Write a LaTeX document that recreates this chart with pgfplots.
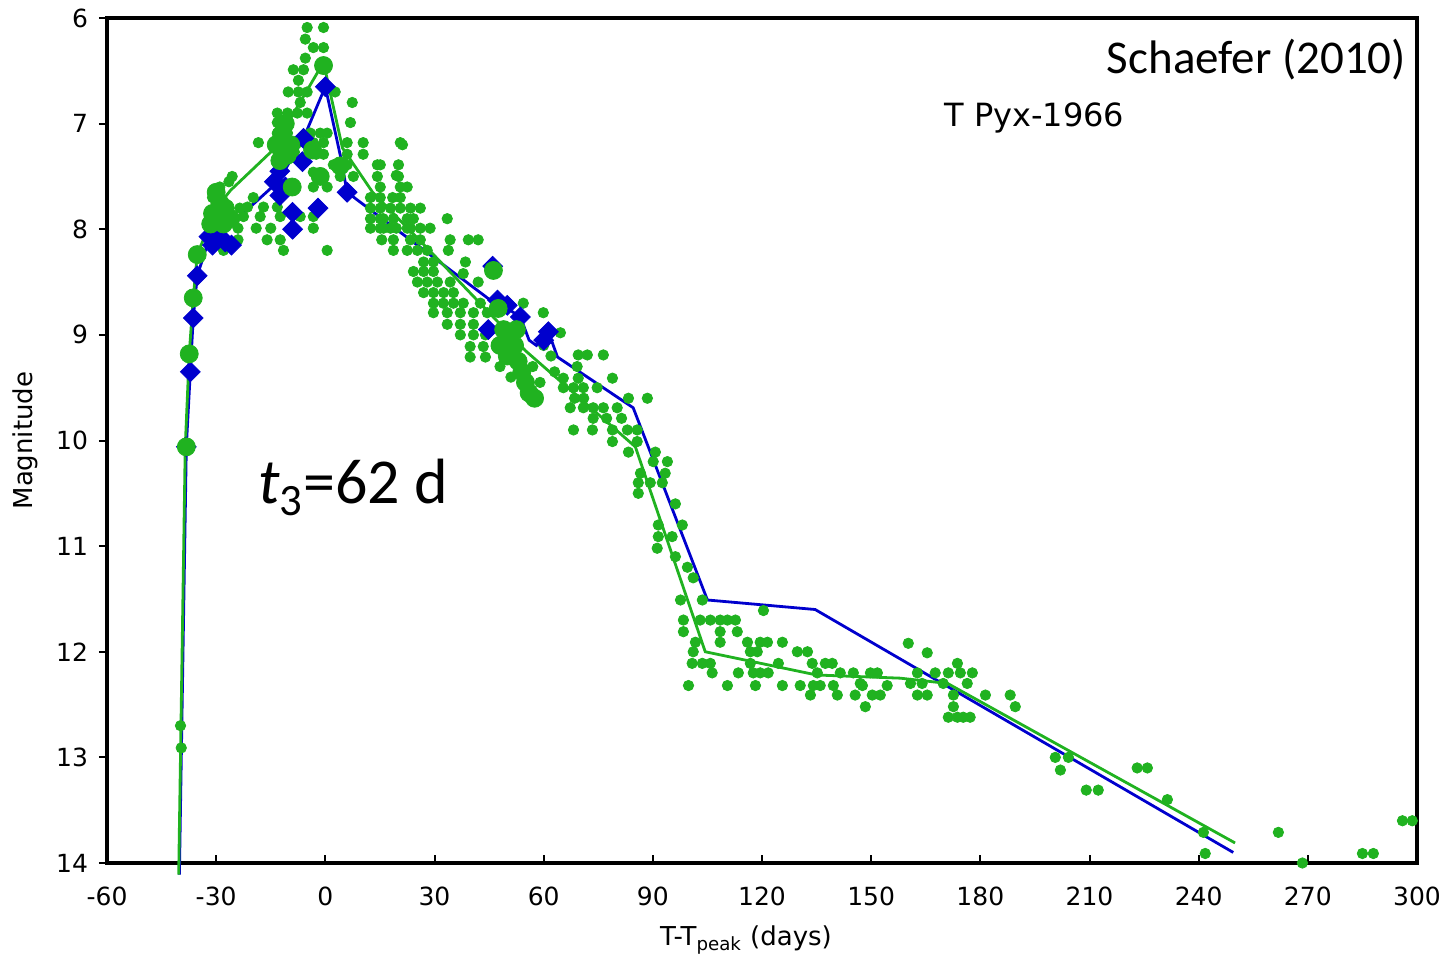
\documentclass[border=0pt]{standalone}
\usepackage{fontspec}
\setmainfont{DejaVu Sans}
\newfontfamily\calibri{Carlito}
\usepackage{pgfplots}
\pgfplotsset{compat=1.18}
\usetikzlibrary{calc}
\definecolor{pgreen}{RGB}{32,178,32}
\definecolor{pblue}{RGB}{0,0,205}

\begin{document}
\begin{tikzpicture}
\begin{axis}[
  name=ax,
  scale only axis, width=655pt, height=422.5pt,
  xmin=-60, xmax=300, ymin=6, ymax=14, y dir=reverse,
  clip=false,
  xtick={-60,-30,0,30,60,90,120,150,180,210,240,270,300},
  xticklabels={-60,-30,0,30,60,90,120,150,180,210,240,270,300},
  ytick={6,7,8,9,10,11,12,13,14},
  yticklabels={6,7,8,9,10,11,12,13,14},
  tick align=inside, xtick pos=bottom, ytick pos=left,
  major tick length=4pt,
  ytick style={xshift=-4pt, line width=1pt, black},
  xtick style={line width=1pt, black},
  tick label style={font=\fontsize{12.5}{14}\selectfont},
  yticklabel style={xshift=-6pt},
  xticklabel style={yshift=-8.5pt},
  axis line style={line width=2pt},
  xlabel={T-T\textsubscript{peak} (days)},
  ylabel={Magnitude},
  every axis x label/.style={at={(axis description cs:0.5,0)}, anchor=center, xshift=-8pt, yshift=-38.5pt, font=\fontsize{13}{15}\selectfont},
  every axis y label/.style={at={(axis description cs:0,0.5)}, xshift=-41pt, anchor=center, rotate=90, font=\fontsize{13}{15}\selectfont},
]
% small green dots
\addplot[only marks, mark=*, mark size=2.6pt, mark options={draw=pgreen, fill=pgreen}] coordinates {
(-39.8,12.7)(-39.6,12.91)
(-5.0,6.09)(-0.5,6.09)(-5.5,6.20)(-3.3,6.28)(-0.5,6.28)(-5.5,6.38)
(-8.8,6.49)(-6.0,6.49)(-7.4,6.59)(-10.2,6.70)(-7.4,6.70)(-5.0,6.70)(2.7,6.70)
(7.4,6.80)(-6.9,6.80)(-13.2,6.90)(-10.4,6.90)(-7.7,6.90)(-5.0,6.90)
(6.9,6.99)(-13.2,6.99)(-10.4,6.99)(-4.1,7.09)(-1.4,7.09)(0.5,7.09)(-13.2,7.09)(-10.4,7.09)
(-18.4,7.18)(-11.5,7.18)(-7.4,7.18)(-3.3,7.18)(-0.5,7.18)(6.0,7.18)(10.4,7.18)(20.6,7.18)
(-13,7.27)(-8.5,7.27)(-2.5,7.29)(-0.5,7.29)(6.0,7.29)(10.4,7.29)
(2.2,7.39)(6.0,7.39)(14.3,7.39)(20.1,7.39)
(-3.3,7.46)(4.1,7.5)(7.7,7.5)(14.3,7.5)(20.1,7.5)(-25.6,7.5)
(-19.8,7.7)(-3.3,7.6)(0.5,7.6)(12.4,7.7)(15.1,7.7)(20.6,7.7)
(-21.4,7.79)(-17,7.79)(-13.2,7.79)(12.4,7.8)(15.1,7.8)(17.9,7.8)(23.4,7.8)
(-22.5,7.88)(-17.9,7.88)(-12.4,7.88)(-6.9,7.88)(-3.3,7.88)(12.4,7.9)(15.9,7.9)(18.7,7.9)(22.5,7.9)
(-24,7.99)(-19,7.99)(-15,7.99)(-3.3,7.99)(12.4,7.99)(16,7.99)(19.5,7.99)(22.5,7.99)
(-16,8.1)(-12.4,8.1)(15.5,8.1)(18.7,8.1)
(-11.5,8.2)(0.5,8.2)(18.7,8.2)
(-26.5,7.55)(-23.5,7.8)(-31,7.7)(-29,7.6)(-28,8.2)(-24,8.1)
(21.2,7.2)(15.1,7.39)(19.5,7.49)(15.1,7.6)(20.6,7.6)(22.5,7.6)(18.5,7.7)
(20.6,7.8)(26.1,7.8)(33.5,7.9)(15.1,7.9)(24.2,7.9)
(15.1,7.99)(17.9,7.99)(23.4,7.99)(26.1,7.99)(28.8,7.99)
(34.3,8.1)(39.3,8.1)(42,8.1)(23.4,8.1)(26.1,8.1)
(22.5,8.2)(25.3,8.2)(28,8.2)(33.8,8.2)
(27,8.31)(29.7,8.31)(38.5,8.31)
(24.2,8.4)(27,8.4)(29.7,8.4)(37.9,8.42)
(25.3,8.5)(28,8.5)(30.8,8.5)(34.3,8.5)(42,8.5)
(27,8.6)(29.7,8.6)(32.5,8.6)(35.2,8.6)
(29.7,8.7)(32.4,8.7)(35.2,8.7)(37.9,8.7)(42.6,8.7)(54.4,8.7)
(29.7,8.79)(33.5,8.79)(37.1,8.79)(40.7,8.79)(44.5,8.79)(59.9,8.79)
(33.5,8.9)(37.1,8.9)(40.7,8.9)(64.6,8.98)(37.1,9.0)(40.7,9.0)(44,9.0)
(39.8,9.11)(43.4,9.11)(47,9.11)(39.8,9.21)(44,9.21)
(48,9.3)(51,9.4)(57,9.3)(60,9.1)(62,9.2)(59,9.45)(63,9.35)
(69.5,9.19)(72,9.19)(76.4,9.19)(69.2,9.3)(65.4,9.41)(69.5,9.41)(78.9,9.41)
(65.4,9.5)(68.2,9.5)(70.9,9.5)(74.7,9.5)(83.3,9.6)(88.5,9.6)(68.5,9.6)(71,9.6)
(67.3,9.69)(70.9,9.69)(73.6,9.69)(76.4,9.69)(80.2,9.69)
(73.6,9.79)(77.3,9.79)(81.4,9.79)
(68.2,9.9)(73.4,9.9)(78.9,9.9)(83,9.9)(85.7,9.9)
(78.9,10.01)(85.7,10.01)
(83.3,10.11)(90.7,10.11)(90.1,10.2)(94,10.2)
(86.6,10.31)(93.4,10.31)(86,10.4)(89.3,10.4)(92.6,10.4)(86,10.5)(96.2,10.6)
(91.5,10.8)(98.1,10.8)(91.5,10.91)(95.3,10.91)(91.2,11.02)(96.2,11.1)(99.5,11.2)
(101.1,11.3)(97.6,11.51)(103.6,11.51)(120.4,11.61)
(98.4,11.7)(103,11.7)(105.8,11.7)(108.5,11.7)(110.5,11.7)(112.7,11.7)
(98.4,11.81)(108.5,11.81)(113.2,11.81)
(101.7,11.91)(108.5,11.91)(116,11.91)(119.5,11.91)(121.5,11.91)(125.6,11.91)
(101.1,12.0)(116.8,12.0)(118.7,12.0)(129.7,12.0)(132.5,12.0)
(100.8,12.11)(103.6,12.11)(105.8,12.11)(116.8,12.11)(124.5,12.11)(133.8,12.11)(137.4,12.11)(139.3,12.11)
(106.3,12.2)(113.5,12.2)(117.6,12.2)(119.5,12.2)(121.7,12.2)(135.2,12.2)(141.5,12.2)(145.1,12.2)(149.8,12.2)(151.7,12.2)
(99.8,12.32)(110.5,12.32)(118.2,12.32)(125.6,12.32)(130.5,12.32)(134.1,12.32)(136,12.32)(139.6,12.32)(147.6,12.32)(154.4,12.32)
(133.3,12.41)(140.7,12.41)(145.6,12.41)(150.3,12.41)(152.5,12.41)(148.4,12.52)
(160.2,11.92)(165.4,12.01)(173.7,12.11)
(162.7,12.2)(167.6,12.2)(171.2,12.2)(174.5,12.2)(177.8,12.2)
(147,12.3)(160.8,12.3)(164,12.3)(169.8,12.3)(176.4,12.3)
(162.7,12.41)(165.4,12.41)(172.6,12.41)(181.4,12.41)(188.2,12.41)
(172.6,12.52)(189.6,12.52)
(171.2,12.62)(173.7,12.62)(175.3,12.62)(177.2,12.62)
(200.6,13.0)(204.2,13.0)(202,13.12)(209.1,13.31)(212.4,13.31)(223.1,13.1)(225.9,13.1)(231.4,13.4)
(241.3,13.71)(241.8,13.91)(261.9,13.71)(268.5,14.0)(285,13.91)(288,13.91)(296,13.6)(298.7,13.6)
};
% blue line
\addplot[pblue, line width=1.4pt, no marks] coordinates {
(-40.1,14.11)(-38.2,10.06)(-37.1,9.35)(-36.3,8.84)(-35.2,8.44)(-32,8.1)(-29,8.05)(-13,7.55)(-6,7.14)(0,6.65)(4.1,7.3)(6,7.65)(45.3,8.67)(47.3,8.67)(50,8.75)(53.6,8.83)(56,9.05)(58,9.1)(61.3,8.97)(63.8,9.21)(84.6,9.69)(105,11.51)(134.6,11.6)(249.5,13.9)
};
% blue diamonds
\addplot[only marks, mark=square*, mark size=3.5pt, mark options={rotate=45, draw=pblue, fill=pblue}] coordinates {
(-38.2,10.06)(-37.1,9.35)(-36.3,8.84)(-35.2,8.44)
(-32,8.07)(-30.5,8.03)(-29,8.07)(-27.5,8.12)(-31,8.15)(-25.8,8.15)
(-14,7.55)(-12.5,7.45)(-11,7.6)(-12.5,7.68)
(-9,7.84)(-9,8.0)(-2,7.8)(-6,7.14)(-6.3,7.36)(0,6.65)(6,7.65)
(46,8.35)(47.3,8.67)(50,8.72)(53.6,8.83)(44.8,8.95)(61.3,8.97)(60,9.05)
};
% green line
\addplot[pgreen, line width=1.4pt, no marks] coordinates {
(-40.3,14.11)(-38.5,10.06)(-37.4,9.18)(-36.3,8.65)(-35.2,8.24)(-30,7.8)(-26,7.63)(-15,7.27)(-0.5,6.42)(4.7,7.23)(13,7.65)(30,8.25)(55,9.15)(85.2,10.06)(104.4,12.0)(135,12.22)(158,12.25)(171,12.3)(250,13.81)
};
% large green circles
\addplot[only marks, mark=*, mark size=4.5pt, mark options={draw=pgreen, fill=pgreen}] coordinates {
(-38.2,10.06)(-37.4,9.18)(-36.3,8.65)(-35.2,8.24)
(-31,7.85)(-29,7.75)(-27.5,7.8)(-30,7.65)(-28,7.95)(-26,7.9)(-31.5,7.95)
(-13.5,7.2)(-12,7.1)(-10.5,7.3)(-12.5,7.35)(-11,7.0)(-9.5,7.2)
(-9.1,7.6)(-0.5,6.45)(-1.4,7.5)(-3.5,7.25)(4.1,7.4)
(46.2,8.39)
(47.5,8.75)(49,8.95)(50.5,9.0)(52,9.1)(53,9.25)(54,9.35)(55,9.45)(56,9.55)(57.5,9.6)(50,9.2)(52.5,8.95)(48,9.1)
};
\node[anchor=east, font=\calibri\fontsize{23.5}{26}\selectfont] at ($(axis description cs:1,1)+(-2pt,-21pt)$) {Schaefer (2010)};
\node[anchor=west, inner sep=0pt, font=\fontsize{16}{18}\selectfont] at ($(axis description cs:0,1)+(418.5pt,-50pt)$) {T Pyx-1966};
\node[anchor=west, inner sep=0pt, font=\calibri\fontsize{32}{35}\selectfont] at ($(axis description cs:0,1)+(75.5pt,-234.5pt)$) {\textit{t}\textsubscript{3}=62 d};
\end{axis}
\pgfresetboundingbox
\path ($(ax.south west)+(-53.5pt,-47pt)$) rectangle ($(ax.north east)+(14pt,9pt)$);
\end{tikzpicture}
\end{document}
